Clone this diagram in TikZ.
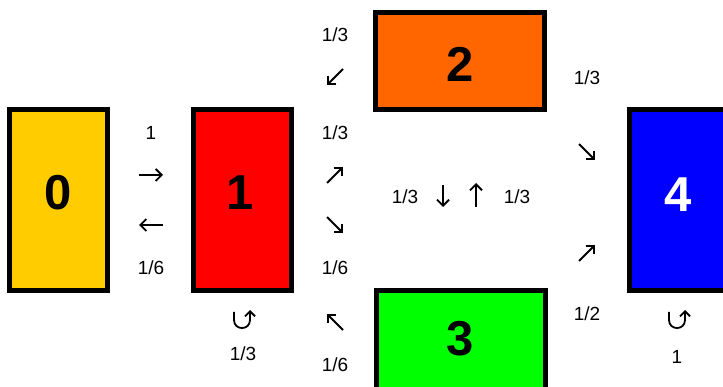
\documentclass[tikz,border=0pt]{standalone}
\usepackage{fontspec}
\setmainfont{Liberation Sans}
\usetikzlibrary{arrows.meta}
\begin{document}
\begin{tikzpicture}[x=1pt,y=-1pt,
  box/.style={draw=black, line width=5pt, inner sep=0pt, rectangle},
  num/.style={inner sep=0pt, font=\fontsize{49}{50}\selectfont\bfseries},
  prob/.style={inner sep=0pt, font=\fontsize{19}{20}\selectfont},
  garrow/.style={line width=1.8pt, -{Straight Barb[length=6pt,width=12pt]}},
  uarrow/.style={line width=1.8pt, -{Straight Barb[length=5pt,width=10pt]}}
]
\useasboundingbox (0,0) rectangle (723,387);
\clip (0,0) rectangle (723,387);
\definecolor{c0}{HTML}{FFCC00}
\definecolor{c1}{HTML}{FF0000}
\definecolor{c2}{HTML}{FF6600}
\definecolor{c3}{HTML}{00FF00}
\definecolor{c4}{HTML}{0000FF}
% boxes
\node[box, fill=c0, minimum width=98pt, minimum height=181pt] (b0) at (58.5,200) {};
\node[box, fill=c1, minimum width=98pt, minimum height=181pt] (b1) at (242.5,200) {};
\node[box, fill=c2, minimum width=169pt, minimum height=97pt] (b2) at (460,61) {};
\node[box, fill=c3, minimum width=169pt, minimum height=120pt] (b3) at (461,350.5) {};
\node[box, fill=c4, minimum width=131pt, minimum height=181pt] (b4) at (695,200) {};
% state numbers
\node[num] (t0) at (58.5,192.5) {0};
\node[num] (t1) at (240,192.5) {1};
\node[num] (t2) at (460,64) {2};
\node[num] (t3) at (460,339) {3};
\node[num, text=white] (t4) at (678,195) {4};
% probabilities
\node[prob] (p01) at (151,133) {1};
\node[prob] (p10) at (151,268) {1/6};
\node[prob] (p21) at (335,35) {1/3};
\node[prob] (p12) at (335,133) {1/3};
\node[prob] (p13) at (335,268) {1/6};
\node[prob] (p31) at (335,365) {1/6};
\node[prob] (p11) at (243,354) {1/3};
\node[prob] (p23) at (405,197) {1/3};
\node[prob] (p32) at (517,197) {1/3};
\node[prob] (p24) at (587,78) {1/3};
\node[prob] (p34) at (587,314) {1/2};
\node[prob] (p44) at (677,357) {1};
% arrow symbols
\coordinate (a01) at (151,175);
\coordinate (a10) at (151,225);
\draw[garrow] ([xshift=-12pt]a01) -- ([xshift=12pt]a01);
\draw[garrow] ([xshift=12pt]a10) -- ([xshift=-12pt]a10);
\coordinate (a21) at (335,77);
\draw[garrow] ([shift={(8,-8)}]a21) -- ([shift={(-8,8)}]a21);
\coordinate (a12) at (335,175);
\draw[garrow] ([shift={(-8,8)}]a12) -- ([shift={(8,-8)}]a12);
\coordinate (a13) at (335,225);
\draw[garrow] ([shift={(-8,-8)}]a13) -- ([shift={(8,8)}]a13);
\coordinate (a31) at (335,322);
\draw[garrow] ([shift={(8,8)}]a31) -- ([shift={(-8,-8)}]a31);
\coordinate (a23) at (443,196);
\draw[garrow] ([shift={(0,-11)}]a23) -- ([shift={(0,11)}]a23);
\coordinate (a32) at (476,195);
\draw[garrow] ([shift={(0,12)}]a32) -- ([shift={(0,-12)}]a32);
\coordinate (a24) at (587,152);
\draw[garrow] ([shift={(-8,-8)}]a24) -- ([shift={(8,8)}]a24);
\coordinate (a34) at (587,253);
\draw[garrow] ([shift={(-8,8)}]a34) -- ([shift={(8,-8)}]a34);
% self loops
\draw[uarrow] (234,312) -- (234,320) .. controls (234,330.7) and (250,330.7) .. (250,320) -- (250,310);
\draw[uarrow] (669,312) -- (669,320) .. controls (669,330.7) and (685,330.7) .. (685,320) -- (685,310);
\end{tikzpicture}
\end{document}
